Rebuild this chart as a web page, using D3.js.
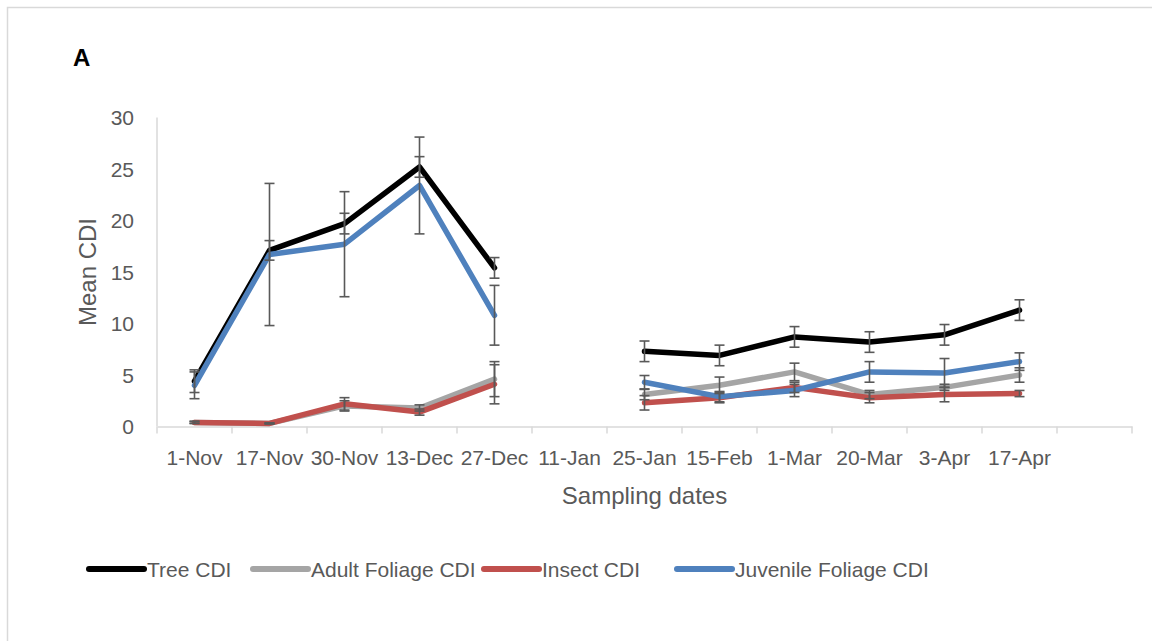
<!DOCTYPE html>
<html>
<head>
<meta charset="utf-8">
<script src="https://cdn.jsdelivr.net/npm/d3@7/dist/d3.min.js"></script>
<style>
  html, body { margin: 0; padding: 0; background: #fff; }
  svg { display: block; }
  text { font-family: "Liberation Sans", Arial, sans-serif; fill: #595959; }
</style>
</head>
<body>
<div id="chart"></div>
<script>
// sampling dates (the last, empty band is kept as spare room like in the original)
var dates = ["1-Nov", "17-Nov", "30-Nov", "13-Dec", "27-Dec", "11-Jan", "25-Jan", "15-Feb", "1-Mar", "20-Mar", "3-Apr", "17-Apr"];
var spare = [" "];

// mean CDI per series, null = not sampled
var treeCDI     = [4.4, 17.1, 19.7, 25.2, 15.4, null, 7.3, 6.9, 8.7, 8.2, 8.9, 11.3];
var treeErr     = [1.1, 0.95, 1.0, 1.0, 1.0, null, 1.0, 1.0, 1.0, 1.0, 1.0, 1.0];
var adultCDI    = [0.4, 0.3, 2.0, 1.8, 4.6, null, 3.1, 4.0, 5.3, 3.1, 3.8, 5.0];
var adultErr    = [0.1, 0.05, 0.5, 0.3, 1.7, null, 0.5, 0.8, 0.85, 0.4, 0.3, 0.7];
var insectCDI   = [0.4, 0.3, 2.2, 1.4, 4.1, null, 2.3, 2.8, 3.8, 2.8, 3.1, 3.2];
var insectErr   = [0.1, 0.05, 0.6, 0.3, 1.9, null, 0.7, 0.5, 0.5, 0.5, 0.7, 0.3];
var juvenileCDI = [4.0, 16.7, 17.7, 23.4, 10.8, null, 4.3, 2.9, 3.5, 5.3, 5.2, 6.3];
var juvenileErr = [1.3, 6.9, 5.1, 4.7, 2.9, null, 0.65, 0.5, 0.6, 1.0, 1.4, 0.85];

var yTicks = [0, 5, 10, 15, 20, 25, 30];

var series = [
  { name: "Tree CDI",             values: treeCDI,     err: treeErr,     color: "#000000" },
  { name: "Adult Foliage CDI",    values: adultCDI,    err: adultErr,    color: "#a5a5a5" },
  { name: "Insect CDI",           values: insectCDI,   err: insectErr,   color: "#c0504d" },
  { name: "Juvenile Foliage CDI", values: juvenileCDI, err: juvenileErr, color: "#4f81bd" }
];

var W = 1152, H = 641;
var plot = { left: 157, right: 1132, top: 117.5, bottom: 426.5 };

var svg = d3.select("#chart").append("svg")
    .attr("width", W)
    .attr("height", H);

// outer chart frame
svg.append("rect")
    .attr("x", 7.5).attr("y", 7.5)
    .attr("width", 1160).attr("height", 660)
    .attr("fill", "#fff")
    .attr("stroke", "#d9d9d9")
    .attr("stroke-width", 1.5);

var x = d3.scaleBand()
    .domain(dates.concat(spare))
    .range([plot.left, plot.right])
    .padding(0);

var y = d3.scaleLinear()
    .domain([0, 30])
    .range([plot.bottom, plot.top]);

var cx = function(i) { return x(dates[i]) + x.bandwidth() / 2; };

// y axis line + labels
svg.append("line")
    .attr("x1", plot.left).attr("x2", plot.left)
    .attr("y1", plot.top).attr("y2", plot.bottom)
    .attr("stroke", "#d9d9d9").attr("stroke-width", 1.5);

svg.append("g")
    .selectAll("text").data(yTicks).enter().append("text")
    .attr("x", 134)
    .attr("y", d => y(d))
    .attr("dy", "0.36em")
    .attr("text-anchor", "end")
    .style("font-size", "21px")
    .text(d => d);

// x axis: line, ticks between categories, labels under the centres
var xAxis = svg.append("g")
    .attr("transform", "translate(0," + plot.bottom + ")")
    .call(d3.axisBottom(x).tickSize(0).tickPadding(24));
xAxis.select(".domain").attr("stroke", "#d9d9d9").attr("stroke-width", 1.5);
xAxis.selectAll(".tick text")
    .style("font-size", "21px")
    .style("font-family", "Liberation Sans, Arial, sans-serif")
    .attr("fill", "#595959");

var bounds = x.domain().map(d => x(d)).concat([plot.right]);
svg.append("g").selectAll("line").data(bounds).enter().append("line")
    .attr("x1", d => d).attr("x2", d => d)
    .attr("y1", plot.bottom).attr("y2", plot.bottom + 7)
    .attr("stroke", "#d9d9d9").attr("stroke-width", 1.5);

// axis titles
svg.append("text")
    .attr("x", (plot.left + plot.right) / 2)
    .attr("y", 504)
    .attr("text-anchor", "middle")
    .style("font-size", "24px")
    .text("Sampling dates");

svg.append("text")
    .attr("transform", "translate(96," + ((plot.top + plot.bottom) / 2) + ") rotate(-90)")
    .attr("text-anchor", "middle")
    .style("font-size", "24px")
    .text("Mean CDI");

// panel letter
svg.append("text")
    .attr("x", 73).attr("y", 66)
    .style("font-size", "24px")
    .style("font-weight", "bold")
    .style("fill", "#000")
    .text("A");

// lines
var line = d3.line()
    .defined(d => d.v !== null)
    .x(d => cx(d.i))
    .y(d => y(d.v));

series.forEach(function(s) {
  var pts = s.values.map((v, i) => ({ i: i, v: v }));
  svg.append("path")
      .datum(pts)
      .attr("fill", "none")
      .attr("stroke", s.color)
      .attr("stroke-width", 5.5)
      .attr("stroke-linejoin", "round")
      .attr("stroke-linecap", "round")
      .attr("d", line);
});

// error bars (standard error)
series.forEach(function(s) {
  var pts = s.values.map((v, i) => ({ i: i, v: v, e: s.err[i] })).filter(d => d.v !== null);
  var g = svg.append("g").attr("stroke", "#595959").attr("stroke-width", 1.6);
  g.selectAll(".bar").data(pts).enter().append("line")
      .attr("x1", d => cx(d.i)).attr("x2", d => cx(d.i))
      .attr("y1", d => y(d.v + d.e)).attr("y2", d => y(d.v - d.e));
  [1, -1].forEach(function(sgn) {
    g.selectAll(".cap" + sgn).data(pts).enter().append("line")
        .attr("x1", d => cx(d.i) - 5).attr("x2", d => cx(d.i) + 5)
        .attr("y1", d => y(d.v + sgn * d.e)).attr("y2", d => y(d.v + sgn * d.e));
  });
});

// legend
var legendX = [89, 253, 484, 677];
var legend = svg.append("g");
series.forEach(function(s, k) {
  legend.append("line")
      .attr("x1", legendX[k]).attr("x2", legendX[k] + 55)
      .attr("y1", 569).attr("y2", 569)
      .attr("stroke", s.color)
      .attr("stroke-width", 6)
      .attr("stroke-linecap", "round");
  legend.append("text")
      .attr("x", legendX[k] + 58)
      .attr("y", 569)
      .attr("dy", "0.36em")
      .style("font-size", "21px")
      .text(s.name);
});
</script>
</body>
</html>
